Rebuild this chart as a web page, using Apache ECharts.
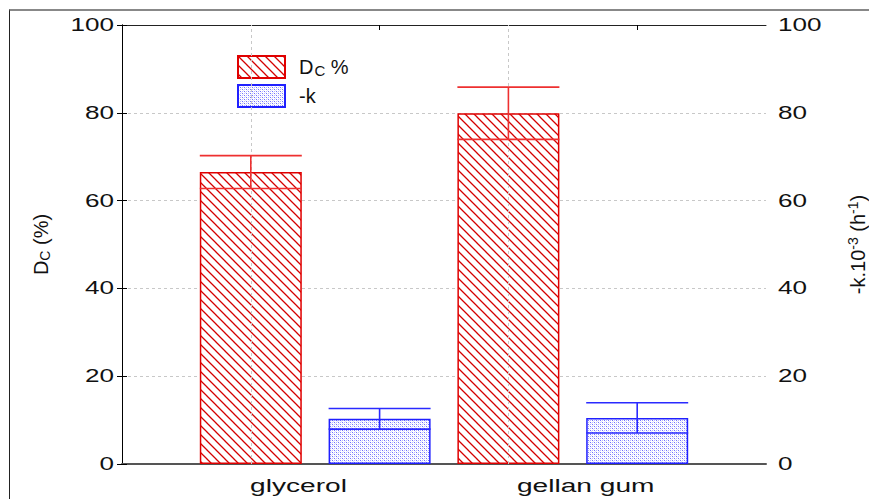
<!DOCTYPE html>
<html>
<head>
<meta charset="utf-8">
<script src="https://cdn.jsdelivr.net/npm/echarts@6/dist/echarts.min.js"></script>
<style>
  html, body { margin: 0; padding: 0; background: #fff; }
  #wrap { position: relative; width: 869px; height: 499px; }
  #chart { position: absolute; left: 0; top: 0; width: 869px; height: 499px; }
  #frame { position: absolute; left: 9px; top: 9px; right: 0; bottom: 0;
           border-left: 1px solid #222; border-top: 2px solid #888; pointer-events: none; }
</style>
</head>
<body>
<div id="wrap"><div id="chart"></div><div id="frame"></div></div>
<script>
// Treatments and measured values (mean and half error-bar length)
const categories = ['glycerol', 'gellan gum'];
const dcMean = [66.5, 79.9];   // D_C (%)
const dcErr = [3.75, 5.95];
const kMean = [10.3, 10.5];    // -k·10^-3 (h^-1)
const kErr = [2.35, 3.45];
const yTickStep = 20;
const yMax = 100;

// Layout: each treatment occupies two slots on a 0..5 axis (D_C bar, then -k bar)
const dcSlot = categories.map((_, i) => 2 * i + 1);
const kSlot = categories.map((_, i) => 2 * i + 2);
const labelSlot = [1.37, 3.6];
const BAR_PX = 102;

// Fill patterns
function hatchPattern() {
  const s = 9;
  const c = document.createElement('canvas');
  c.width = s; c.height = s;
  const g = c.getContext('2d');
  g.fillStyle = '#fff'; g.fillRect(0, 0, s, s);
  g.strokeStyle = '#d40000'; g.lineWidth = 1.3;
  g.beginPath();
  g.moveTo(-2, -2); g.lineTo(s + 2, s + 2);
  g.moveTo(-2 - s, -2); g.lineTo(2, s + 2);
  g.moveTo(s - 2, -2); g.lineTo(2 * s + 2, s + 2);
  g.stroke();
  return c;
}
function dotPattern() {
  const c = document.createElement('canvas');
  c.width = 4; c.height = 4;
  const g = c.getContext('2d');
  g.fillStyle = '#fff'; g.fillRect(0, 0, 4, 4);
  g.fillStyle = '#7070ff'; g.fillRect(0, 0, 1, 1); g.fillRect(2, 2, 1, 1);
  g.fillStyle = '#b8b8ff'; g.fillRect(2, 0, 1, 1); g.fillRect(0, 2, 1, 1);
  g.fillStyle = '#e0e0ff'; g.fillRect(1, 1, 1, 1); g.fillRect(3, 3, 1, 1);
  return c;
}

function errorBars(color) {
  return function (params, api) {
    const x = api.value(0), m = api.value(1), e = api.value(2);
    const hi = api.coord([x, m + e]);
    const lo = api.coord([x, m - e]);
    const h = BAR_PX / 2;
    const st = { stroke: color, lineWidth: 1.6 };
    return {
      type: 'group',
      children: [
        { type: 'line', shape: { x1: hi[0] - h, y1: hi[1], x2: hi[0] + h, y2: hi[1] }, style: st },
        { type: 'line', shape: { x1: lo[0] - h, y1: lo[1], x2: lo[0] + h, y2: lo[1] }, style: st },
        { type: 'line', shape: { x1: hi[0], y1: hi[1], x2: lo[0], y2: lo[1] }, style: st }
      ]
    };
  };
}

const FONT = 'Liberation Sans, Arial, sans-serif';
const chart = echarts.init(document.getElementById('chart'), null, { renderer: 'svg' });

const yAxisCommon = {
  type: 'value', min: 0, max: yMax, interval: yTickStep,
  axisLine: { show: true, lineStyle: { color: '#000', width: 1 } },
  axisTick: { show: true, inside: true, length: 5, lineStyle: { color: '#000' } },
  axisLabel: { fontFamily: FONT, fontSize: 18, color: '#111', margin: 8 },
  nameLocation: 'middle', nameRotate: 90,
  nameTextStyle: {
    fontFamily: FONT, fontSize: 20, color: '#111',
    rich: {
      sub: { fontFamily: FONT, fontSize: 14, color: '#111', padding: [9, 0, 0, 0] },
      sup: { fontFamily: FONT, fontSize: 14, color: '#111', padding: [0, 0, 9, 0] }
    }
  }
};

chart.setOption({
  animation: false,
  backgroundColor: '#fff',
  grid: { left: 122, right: 103, top: 25, bottom: 35, containLabel: false, outerBoundsMode: 'none' },
  legend: {
    data: ['DC %', '-k'],
    orient: 'vertical', left: 237, top: 55, padding: 0,
    itemWidth: 47, itemHeight: 22, itemGap: 5, icon: 'rect',
    formatter: name => name === 'DC %' ? 'D{sub|C} %' : name,
    textStyle: {
      fontFamily: FONT, fontSize: 20, color: '#111', padding: [0, 0, 0, 9], lineHeight: 22,
      rich: { sub: { fontFamily: FONT, fontSize: 15, color: '#111', lineHeight: 15, padding: [7, 0, 0, 1] } }
    }
  },
  xAxis: [
    {
      type: 'value', min: 0, max: 5, position: 'bottom',
      axisLine: { show: true, onZero: false, lineStyle: { color: '#555', width: 2 } },
      axisTick: { show: true, inside: true, length: 4, customValues: dcSlot, lineStyle: { color: '#000' } },
      axisLabel: {
        show: true, customValues: labelSlot, margin: 12,
        fontFamily: FONT, fontSize: 19, color: '#111',
        formatter: v => categories[labelSlot.indexOf(v)] || ''
      },
      splitLine: { show: false }
    },
    {
      type: 'value', min: 0, max: 5, position: 'top',
      axisLine: { show: true, onZero: false, lineStyle: { color: '#222', width: 1 } },
      axisTick: { show: true, inside: true, length: 5, customValues: kSlot, lineStyle: { color: '#000' } },
      axisLabel: { show: false },
      splitLine: { show: false }
    }
  ],
  yAxis: [
    Object.assign({}, yAxisCommon, {
      position: 'left', name: 'D{sub|C} (%)', nameGap: 70,
      splitLine: { show: true, lineStyle: { color: '#c8c8c8', type: [3, 3], width: 1 } }
    }),
    Object.assign({}, yAxisCommon, {
      position: 'right', name: '-k.10{sup|-3} (h{sup|-1})', nameGap: 80,
      axisLabel: Object.assign({}, yAxisCommon.axisLabel, { margin: 12 }),
      splitLine: { show: false }
    })
  ],
  series: [
    {
      // vertical guide lines through the D_C bars
      type: 'line', data: [], z: 0, silent: true,
      markLine: {
        symbol: 'none', silent: true, label: { show: false },
        lineStyle: { color: '#c8c8c8', type: [3, 3], width: 1 },
        data: dcSlot.map(v => ({ xAxis: v }))
      }
    },
    {
      name: 'DC %', type: 'bar', xAxisIndex: 0, yAxisIndex: 0,
      barWidth: BAR_PX, barGap: '-100%',
      data: dcSlot.map((x, i) => [x, dcMean[i]]),
      itemStyle: { color: { image: hatchPattern(), repeat: 'repeat' }, borderColor: '#e00000', borderWidth: 1.5 }
    },
    {
      name: '-k', type: 'bar', xAxisIndex: 0, yAxisIndex: 1,
      barWidth: BAR_PX, barGap: '-100%',
      data: kSlot.map((x, i) => [x, kMean[i]]),
      itemStyle: { color: { image: dotPattern(), repeat: 'repeat' }, borderColor: '#2020ff', borderWidth: 1.5 }
    },
    {
      name: 'DC err', type: 'custom', xAxisIndex: 0, yAxisIndex: 0, z: 5,
      renderItem: errorBars('#ee3030'),
      data: dcSlot.map((x, i) => [x, dcMean[i], dcErr[i]])
    },
    {
      name: 'k err', type: 'custom', xAxisIndex: 0, yAxisIndex: 1, z: 5,
      renderItem: errorBars('#2a2aff'),
      data: kSlot.map((x, i) => [x, kMean[i], kErr[i]])
    }
  ]
});

// Axis tick and category labels are set in a wide face: widen the glyphs
// horizontally about each label's anchor point.
const tickTexts = new Set();
for (let v = 0; v <= yMax; v += yTickStep) tickTexts.add(String(v));
function widthFactor(str) {
  if (tickTexts.has(str)) return 1.45;
  if (categories.includes(str)) return 1.48;
  return 0;
}
function widenLabels() {
  document.querySelectorAll('#chart svg text').forEach(t => {
    const f = widthFactor(t.textContent.trim());
    if (!f) return;
    const cur = t.getAttribute('transform') || '';
    if (t.getAttribute('data-wide') === cur) return;
    const m = cur.match(/matrix\(([^)]+)\)/);
    if (m) {
      const p = m[1].split(/[ ,]+/).map(Number);
      if (Math.abs(p[1]) > 1e-6 || Math.abs(p[2]) > 1e-6) return;
    }
    const x = parseFloat(t.getAttribute('x') || '0');
    const tf = (cur + ' translate(' + x + ' 0) scale(' + f + ' 1) translate(' + (-x) + ' 0)').trim();
    t.setAttribute('transform', tf);
    t.setAttribute('data-wide', tf);
  });
}
widenLabels();
chart.on('finished', widenLabels);
</script>
</body>
</html>
